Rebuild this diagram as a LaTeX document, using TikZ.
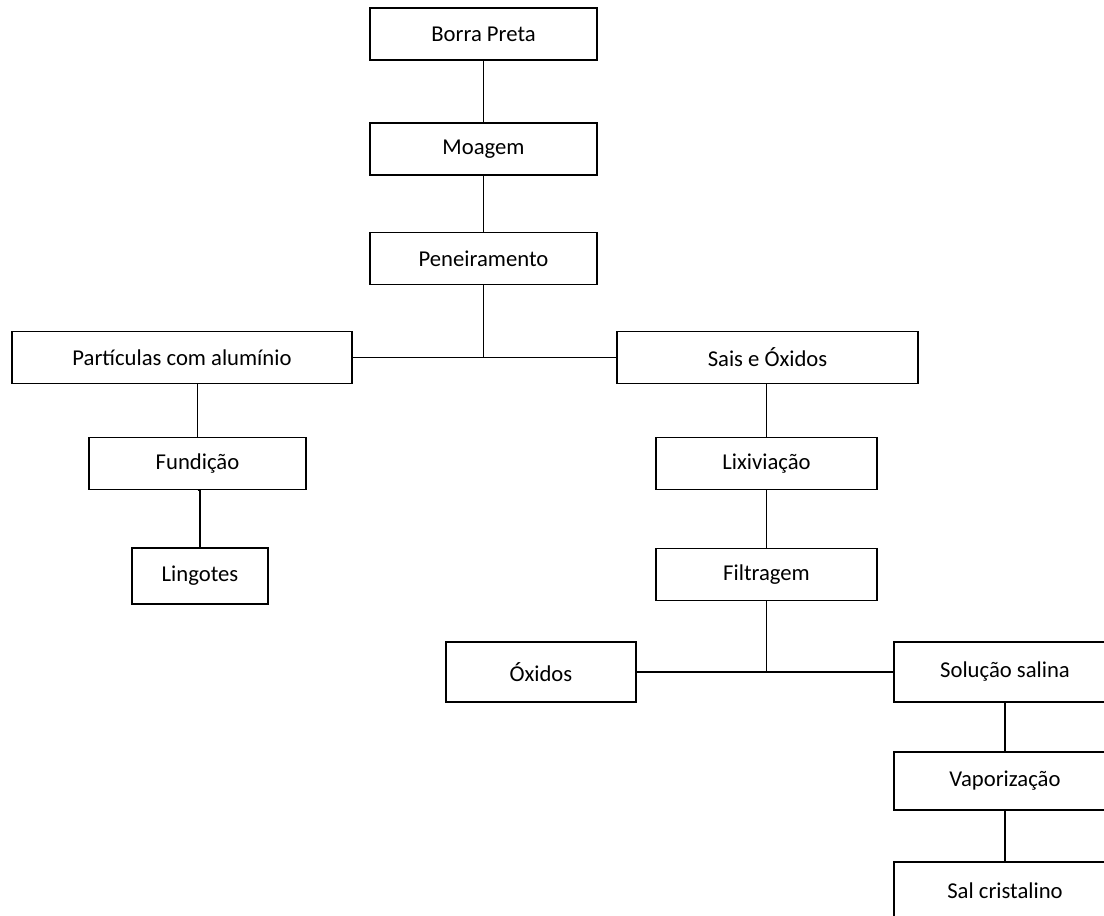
\documentclass[tikz,border=0pt]{standalone}
\usepackage{fontspec}
\setmainfont{Carlito}
\begin{document}
\begin{tikzpicture}[x=0.75pt,y=-0.75pt,line width=1.1pt,
		etapa/.style={draw,rectangle,inner sep=0pt,minimum height=39pt,
			font=\fontsize{17}{20}\selectfont}]
	\useasboundingbox (0,0) rectangle (1104,916);
	\clip (0,0) rectangle (1104,916);

	\node[etapa,minimum width=170pt] (borra) at (483.5,34)  {Borra Preta};
	\node[etapa,minimum width=170pt] (moag)  at (483.5,149) {Moagem};
	\node[etapa,minimum width=170pt] (pen)   at (483.5,258.5) {Peneiramento};
	\node[etapa,minimum width=255pt] (part)  at (182,357.5) {Partículas com alumínio};
	\node[etapa,minimum width=226pt] (sais)  at (767.5,357.5) {Sais e Óxidos};
	\node[etapa,minimum width=163pt] (fund)  at (197.5,463.5) {Fundição};
	\node[etapa,minimum width=102pt,minimum height=42pt] (ling) at (200,576) {Lingotes};
	\node[etapa,minimum width=166pt] (lix)   at (766.5,463.5) {Lixiviação};
	\node[etapa,minimum width=166pt] (filt)  at (766.5,574.5) {Filtragem};
	\node[etapa,minimum width=142.5pt,minimum height=45pt] (oxi) at (541,672) {Óxidos};
	\node[etapa,minimum width=166.5pt,minimum height=45pt] (sol) at (1005,672) {Solução salina};
	\node[etapa,minimum width=166.5pt,minimum height=43.5pt] (vap) at (1005,781) {Vaporização};
	\node[etapa,minimum width=166.5pt,minimum height=43.5pt] (sal) at (1005,891) {Sal cristalino};

	\draw (borra) -- (moag);
	\draw (moag) -- (pen);
	\draw (pen.south) -- (pen.south |- part.east);
	\draw (part.east) -- (sais.west);
	\draw (part.south -| fund.north) -- (fund.north);
	\draw (fund.south) -- (fund.south -| ling.north) -- (ling.north);
	\draw (sais.south -| lix.north) -- (lix);
	\draw (lix) -- (filt);
	\draw (filt.south) -- (filt.south |- oxi.east);
	\draw (oxi.east) -- (sol.west);
	\draw (sol) -- (vap);
	\draw (vap) -- (sal);
\end{tikzpicture}
\end{document}
